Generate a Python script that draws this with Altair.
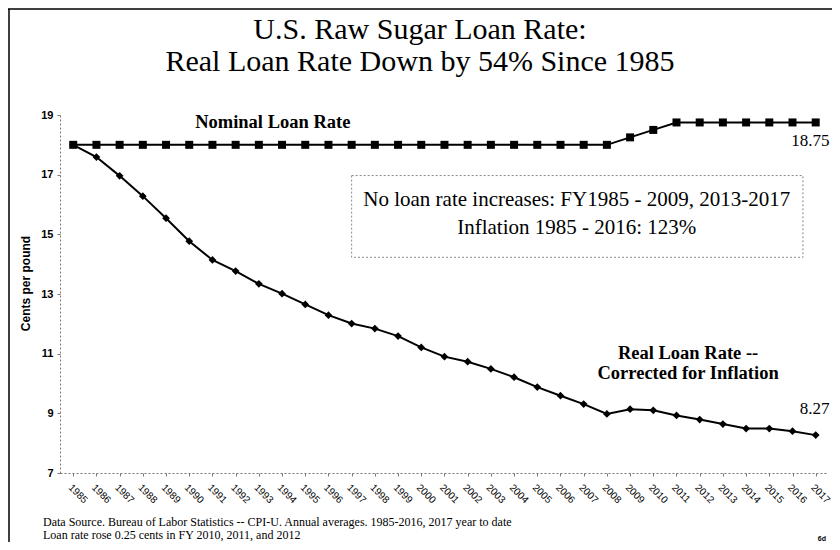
import altair as alt
import pandas as pd

years = list(range(1985, 2018))
nominal = [18.0] * 24 + [18.25, 18.5] + [18.75] * 7
real = [18.0, 17.59, 16.96, 16.28, 15.54, 14.77, 14.14, 13.77, 13.34, 13.01,
        12.65, 12.29, 12.01, 11.84, 11.59, 11.21, 10.90, 10.73, 10.49, 10.21,
        9.88, 9.59, 9.31, 8.98, 9.14, 9.10, 8.93, 8.79, 8.64, 8.49,
        8.49, 8.40, 8.27]
y_ticks = [7, 9, 11, 13, 15, 17, 19]

title_lines = ["U.S. Raw Sugar Loan Rate:", "Real Loan Rate Down by 54% Since 1985"]
box_lines = ["No loan rate increases: FY1985 - 2009, 2013-2017",
             "Inflation 1985 - 2016: 123%"]
real_label = ["Real Loan Rate --", "Corrected for Inflation"]
nominal_label = "Nominal Loan Rate"
end_labels = ["18.75", "8.27"]
notes = ["Data Source. Bureau of Labor Statistics -- CPI-U. Annual averages. 1985-2016,  2017 year to date",
         "Loan rate rose 0.25 cents in FY 2010, 2011, and 2012"]
corner_note = "6d"
y_title = "Cents per pound"

df = pd.DataFrame({"year": years, "nominal": nominal, "real": real})

W, H = 768, 358
SERIF = "Liberation Serif"
SANS = "Liberation Sans"

xscale = alt.Scale(domain=[1984.43, 2017.53], nice=False, zero=False)
yscale = alt.Scale(domain=[7, 19], nice=False, zero=False)

xaxis = alt.Axis(values=years, tickCount=60, format="d", labelAngle=45,
                 labelAlign="left", labelBaseline="top", labelFont=SANS,
                 labelFontSize=10, labelColor="black", tickSize=3,
                 labelPadding=6, domainDash=[2, 2],
                 domainColor="#777", tickColor="#777", grid=False, title=None,
                 labelOverlap=False, labelFlush=False)
yaxis = alt.Axis(values=y_ticks, tickCount=20, format="d", labelFont=SANS,
                 labelFontSize=11, labelFontWeight="bold", labelColor="black",
                 tickSize=3, labelPadding=4, domainDash=[2, 2],
                 domainColor="#777", tickColor="#777", grid=False,
                 title=y_title, titleFont=SANS, titleFontSize=12,
                 titleFontWeight="bold", titleColor="black", titleAngle=-90,
                 titleX=-35, titleY=168, titleAlign="center",
                 titleBaseline="middle", labelFlush=False, labelOverlap=False)

base = alt.Chart(df)
nominal_line = base.mark_line(color="black", strokeWidth=2).encode(
    x=alt.X("year:Q", scale=xscale, axis=xaxis),
    y=alt.Y("nominal:Q", scale=yscale, axis=yaxis))
nominal_pts = base.mark_point(shape="square", filled=True, size=64,
                              color="black", opacity=1).encode(
    x="year:Q", y="nominal:Q")
real_line = base.mark_line(color="black", strokeWidth=2).encode(
    x="year:Q", y="real:Q")
real_pts = base.mark_point(shape="diamond", filled=True, size=60,
                           color="black", opacity=1).encode(
    x="year:Q", y="real:Q")


def one(text):
    return alt.Chart(pd.DataFrame({"t": [text]}))


def label(text, x, y, **kw):
    return one(text).mark_text(**kw).encode(x=x, y=y, text="t:N")


box = one("").mark_rect(fill="white", stroke="#888", strokeDash=[2, 2],
                        strokeWidth=1).encode(
    x=alt.datum(1997.0), x2=alt.datum(2016.45),
    y=alt.datum(16.97), y2=alt.datum(14.23))

layers = [box, nominal_line, real_line, nominal_pts, real_pts]

layers.append(label(title_lines[0], alt.value(360), alt.value(-76),
                    font=SERIF, fontSize=30, align="center",
                    baseline="alphabetic", color="black"))
layers.append(label(title_lines[1], alt.value(360), alt.value(-44),
                    font=SERIF, fontSize=30, align="center",
                    baseline="alphabetic", color="black"))
layers.append(label(box_lines[0], alt.datum(2006.7), alt.datum(16.15),
                    font=SERIF, fontSize=21, align="center",
                    baseline="middle", color="black"))
layers.append(label(box_lines[1], alt.datum(2006.7), alt.datum(15.21),
                    font=SERIF, fontSize=21, align="center",
                    baseline="middle", color="black"))
layers.append(label(nominal_label, alt.datum(1993.6), alt.datum(18.77),
                    font=SERIF, fontSize=18.5, fontWeight="bold",
                    align="center", baseline="middle", color="black"))
layers.append(label(real_label[0], alt.datum(2011.5), alt.datum(11.01),
                    font=SERIF, fontSize=18.5, fontWeight="bold",
                    align="center", baseline="middle", color="black"))
layers.append(label(real_label[1], alt.datum(2011.5), alt.datum(10.34),
                    font=SERIF, fontSize=18.5, fontWeight="bold",
                    align="center", baseline="middle", color="black"))
layers.append(label(end_labels[0], alt.datum(2017.6), alt.datum(18.13),
                    font=SERIF, fontSize=17, align="right",
                    baseline="middle", color="black"))
layers.append(label(end_labels[1], alt.datum(2017.6), alt.datum(9.13),
                    font=SERIF, fontSize=17, align="right",
                    baseline="middle", color="black"))
layers.append(label(notes[0], alt.value(-17), alt.value(407),
                    font=SERIF, fontSize=12, align="left",
                    baseline="middle", color="black"))
layers.append(label(notes[1], alt.value(-17), alt.value(420),
                    font=SERIF, fontSize=12, align="left",
                    baseline="middle", color="black"))
layers.append(label(corner_note, alt.value(766), alt.value(424),
                    font=SANS, fontSize=7, fontWeight="bold", align="right",
                    baseline="middle", color="black"))

# page frame (left and top edges)
layers.append(one("").mark_rule(color="black", strokeWidth=1.5).encode(
    x=alt.value(-51), y=alt.value(-106), y2=alt.value(H + 69)))
layers.append(one("").mark_rule(color="black", strokeWidth=1.5).encode(
    x=alt.value(-52), x2=alt.value(W + 4), y=alt.value(-106)))

chart = alt.layer(*layers).properties(
    width=W, height=H,
    padding={"left": 52, "top": 107, "right": 4, "bottom": 69},
    autosize=alt.AutoSizeParams(type="none"),
    background="white",
).configure_view(stroke=None)

chart.save("out.html", embed_options={"renderer": "svg", "actions": False})
